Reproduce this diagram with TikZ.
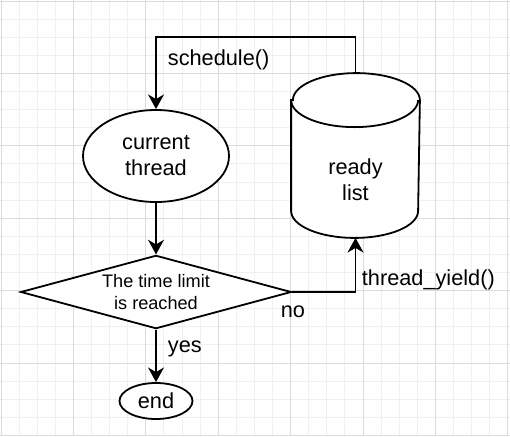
\documentclass[tikz,border=0pt]{standalone}
\usepackage{fontspec}
\setmainfont{Liberation Sans}
\usepackage{tikz}
\usetikzlibrary{shapes.geometric,arrows.meta}

\begin{document}
\begin{tikzpicture}[x=0.75pt,y=-0.75pt,line width=1.35pt,
        flow/.style={-{Stealth[length=11pt,width=12pt,inset=3.5pt]}},
        big/.style={font=\fontsize{16.3}{19.5}\selectfont,align=center},
        small/.style={font=\fontsize{13.6}{16.2}\selectfont,align=center},
        lbl/.style={inner sep=0pt,anchor=west,font=\fontsize{16.3}{19.5}\selectfont}]
    \useasboundingbox (0,0) rectangle (510,436);
    % grid
    \foreach \i in {0,...,28} \draw[line width=0.75pt,black!6] ({1+18.1*\i},0) -- ({1+18.1*\i},436);
    \foreach \j in {0,...,24} \draw[line width=0.75pt,black!6] (0,{1+18.1*\j}) -- (510,{1+18.1*\j});
    \foreach \i in {0,...,7} \draw[line width=0.75pt,black!14] ({1+72.4*\i},0) -- ({1+72.4*\i},436);
    \foreach \j in {0,...,6} \draw[line width=0.75pt,black!14] (0,{1+72.4*\j}) -- (510,{1+72.4*\j});

    \node[draw,ellipse,fill=white,minimum width=109.5pt,minimum height=69pt,inner sep=0pt,big] (current) at (156,156) {current\\thread};
    \node[draw,diamond,aspect=3.7,fill=white,minimum width=203pt,minimum height=55pt,inner sep=0pt,small] (cond) at (156,292) {The time limit\\is reached};
    \node[draw,ellipse,fill=white,minimum width=54.75pt,minimum height=27pt,inner sep=0pt,big] (end) at (156,401) {end};

    % ready list cylinder
    \node[minimum width=95.25pt,minimum height=122.25pt,inner sep=0pt] (ready) at (355.5,155.5) {};
    \draw[fill=white] ([yshift=-20.25pt]ready.north west) -- ([yshift=20.25pt]ready.south west)
        arc[start angle=180,end angle=360,x radius=47.625pt,y radius=20.25pt]
        -- ([yshift=-20.25pt]ready.north east)
        arc[start angle=0,end angle=180,x radius=47.625pt,y radius=20.25pt] -- cycle;
    \draw ([yshift=-20.25pt]ready.north west) arc[start angle=180,end angle=360,x radius=47.625pt,y radius=20.25pt];
    \node[big] (readytxt) at (355.5,180) {ready\\list};

    \draw[flow] (ready.north) -- ++(0,-36) -| (current.north);
    \node[lbl] (sched) at (167,60) {schedule()};
    \draw[flow] (current.south) -- (cond.north);
    \draw[flow] (cond.east) -| (ready.south);
    \node[lbl] (yieldlbl) at (361,280) {thread\_yield()};
    \node[lbl] (nolbl) at (280,312) {no};
    \draw[flow] (cond.south) -- (end.north);
    \node[lbl] (yeslbl) at (167,349) {yes};
\end{tikzpicture}
\end{document}
